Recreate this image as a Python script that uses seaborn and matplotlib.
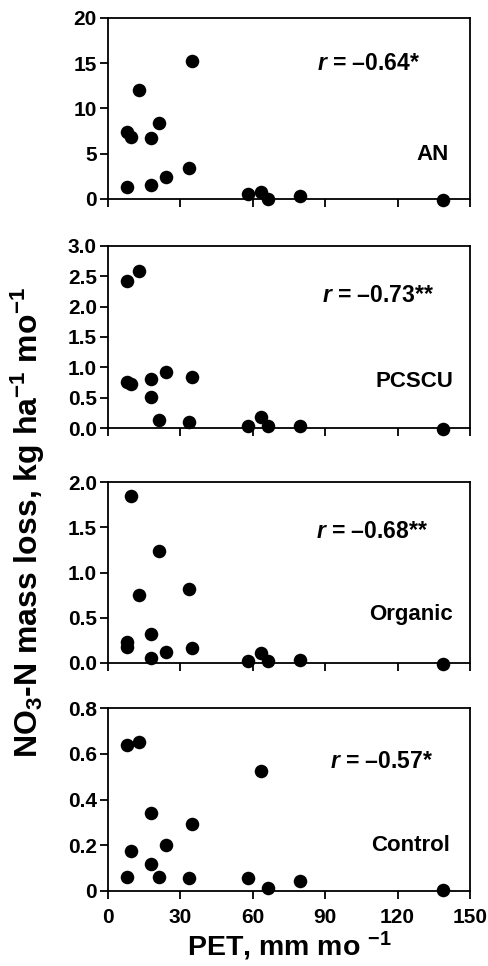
import numpy as np
import pandas as pd
import seaborn as sns
import matplotlib
matplotlib.use("Agg")
import matplotlib.pyplot as plt

# PET (mm/month) shared by all treatments
pet = [8, 8, 9.5, 13, 18, 18, 21, 24, 33.5, 35, 58, 63.5, 66.5, 79.5, 139]

# NO3-N mass loss, kg/ha/mo, one list per treatment (same order as pet)
an = [1.35, 7.45, 6.8, 12.0, 6.7, 1.55, 8.4, 2.4, 3.4, 15.2, 0.5, 0.8, 0.0, 0.3, -0.15]
pcscu = [0.76, 2.43, 0.72, 2.58, 0.51, 0.81, 0.14, 0.92, 0.10, 0.84, 0.03, 0.18, 0.03, 0.03, -0.02]
organic = [0.23, 0.18, 1.85, 0.75, 0.055, 0.32, 1.24, 0.12, 0.82, 0.17, 0.026, 0.11, 0.026, 0.037, -0.007]
control = [0.64, 0.063, 0.177, 0.65, 0.118, 0.34, 0.06, 0.2, 0.058, 0.293, 0.058, 0.526, 0.015, 0.044, 0.003]

treatments = ["AN", "PCSCU", "Organic", "Control"]
r_labels = ["\u20130.64*", "\u20130.73**", "\u20130.68**", "\u20130.57*"]
y_tops = [20, 3.0, 2.0, 0.8]
y_ticks = [[0, 5, 10, 15, 20],
           [0, 0.5, 1.0, 1.5, 2.0, 2.5, 3.0],
           [0, 0.5, 1.0, 1.5, 2.0],
           [0, 0.2, 0.4, 0.6, 0.8]]
y_ticklabels = [["0", "5", "10", "15", "20"],
                ["0.0", "0.5", "1.0", "1.5", "2.0", "2.5", "3.0"],
                ["0.0", "0.5", "1.0", "1.5", "2.0"],
                ["0", "0.2", "0.4", "0.6", "0.8"]]
x_ticks = [0, 30, 60, 90, 120, 150]

sns.set_style("ticks")
plt.rcParams["font.family"] = ["Liberation Sans", "DejaVu Sans"]
plt.rcParams["font.weight"] = "bold"
plt.rcParams["text.color"] = "black"
plt.rcParams["axes.labelcolor"] = "black"
plt.rcParams["mathtext.fontset"] = "custom"
plt.rcParams["mathtext.rm"] = "Liberation Sans:bold"
plt.rcParams["mathtext.bf"] = "Liberation Sans:bold"
plt.rcParams["mathtext.it"] = "Liberation Sans:bold:italic"
plt.rcParams["mathtext.default"] = "bf"

fig = plt.figure(figsize=(4.88, 9.66), dpi=100)

# panel boxes in pixels (top, bottom)
boxes = [(18, 199), (246, 428), (482, 663), (708, 891)]
left, right = 108 / 488, 470 / 488

r_pos = [(0.578, 0.75), (0.59, 0.73), (0.574, 0.725), (0.614, 0.71)]
t_pos = [(0.94, 0.245), (0.953, 0.253), (0.953, 0.266), (0.945, 0.25)]

series = [an, pcscu, organic, control]
for i, (name, vals) in enumerate(zip(treatments, series)):
    top, bot = boxes[i]
    ax = fig.add_axes([left, 1 - bot / 966, right - left, (bot - top) / 966])
    df = pd.DataFrame({"PET": pet, "loss": vals})
    sns.scatterplot(data=df, x="PET", y="loss", ax=ax, color="black",
                    s=95, edgecolor="black", linewidth=0, clip_on=False, zorder=3)
    ax.set_xlim(0, 150)
    ax.set_ylim(0, y_tops[i])
    ax.set_yticks(y_ticks[i])
    ax.set_yticklabels(y_ticklabels[i])
    ax.set_xticks(x_ticks)
    if i < 3:
        ax.set_xticklabels([])
    else:
        ax.set_xticklabels([str(t) for t in x_ticks])
    ax.tick_params(axis="both", direction="out", length=6, width=1.3,
                   labelsize=15, colors="black")
    ax.tick_params(axis="y", pad=2)
    ax.tick_params(axis="x", pad=6)
    for lab in ax.get_xticklabels() + ax.get_yticklabels():
        lab.set_fontweight("bold")
    for sp in ax.spines.values():
        sp.set_visible(True)
        sp.set_linewidth(1.3)
        sp.set_color("black")
    ax.set_ylabel("")
    ax.set_xlabel("")
    ax.text(r_pos[i][0], r_pos[i][1], r"$\mathit{r}$ = " + r_labels[i],
            transform=ax.transAxes, fontsize=16.5, fontweight="bold",
            ha="left", va="center")
    ax.text(t_pos[i][0], t_pos[i][1], name, transform=ax.transAxes,
            fontsize=16, fontweight="bold", ha="right", va="center")
    if i == 3:
        ax.set_xlabel(r"PET, mm mo $^{-1}$", fontsize=20.5, fontweight="bold",
                      labelpad=2)

fig.text(0.057, 1 - 522 / 966, r"NO$_3$-N mass loss, kg ha$^{-1}$ mo$^{-1}$",
         rotation=90, fontsize=23, fontweight="bold", ha="center", va="center")

fig.savefig("out.png", dpi=100)
